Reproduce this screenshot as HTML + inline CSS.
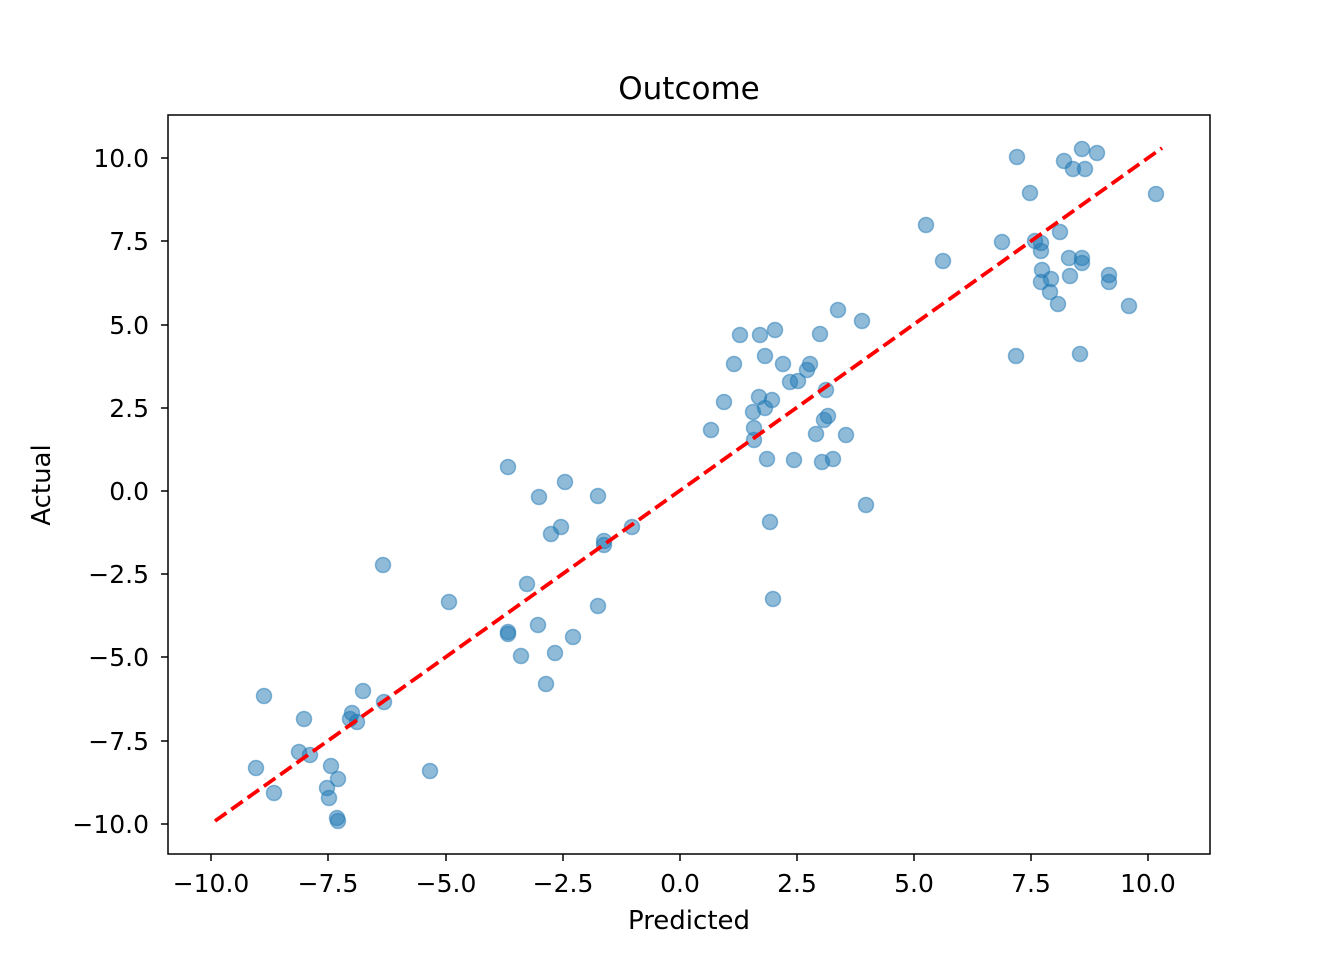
<!DOCTYPE html>
<html><head><meta charset="utf-8"><style>
html,body{margin:0;padding:0;background:#fff;}
svg{display:block;font-family:"DejaVu Sans","Liberation Sans",sans-serif;}
</style></head><body>
<svg width="1344" height="960" viewBox="0 0 1344 960" xmlns="http://www.w3.org/2000/svg">
<rect width="1344" height="960" fill="#fff"/>
<g fill="rgba(31,119,180,0.5)" stroke="rgba(31,119,180,0.5)" stroke-width="1.5">
<circle cx="256" cy="768" r="7.5"/><circle cx="264" cy="696" r="7.5"/><circle cx="274" cy="793" r="7.5"/><circle cx="299" cy="752" r="7.5"/><circle cx="304" cy="719" r="7.5"/><circle cx="310" cy="755" r="7.5"/><circle cx="327" cy="788" r="7.5"/><circle cx="329" cy="798" r="7.5"/><circle cx="331" cy="766" r="7.5"/><circle cx="338" cy="779" r="7.5"/><circle cx="337" cy="818" r="7.5"/><circle cx="338" cy="821" r="7.5"/><circle cx="350" cy="719" r="7.5"/><circle cx="352" cy="713" r="7.5"/><circle cx="357" cy="722" r="7.5"/><circle cx="363" cy="691" r="7.5"/><circle cx="383" cy="565" r="7.5"/><circle cx="384" cy="702" r="7.5"/><circle cx="430" cy="771" r="7.5"/><circle cx="449" cy="602" r="7.5"/><circle cx="508" cy="467" r="7.5"/><circle cx="508" cy="632" r="7.5"/><circle cx="508" cy="634" r="7.5"/><circle cx="521" cy="656" r="7.5"/><circle cx="527" cy="584" r="7.5"/><circle cx="538" cy="625" r="7.5"/><circle cx="539" cy="497" r="7.5"/><circle cx="551" cy="534" r="7.5"/><circle cx="555" cy="653" r="7.5"/><circle cx="561" cy="527" r="7.5"/><circle cx="565" cy="482" r="7.5"/><circle cx="573" cy="637" r="7.5"/><circle cx="546" cy="684" r="7.5"/><circle cx="598" cy="496" r="7.5"/><circle cx="598" cy="606" r="7.5"/><circle cx="604" cy="541" r="7.5"/><circle cx="604" cy="545" r="7.5"/><circle cx="632" cy="527" r="7.5"/>
<circle cx="711" cy="430" r="7.5"/><circle cx="724" cy="402" r="7.5"/><circle cx="734" cy="364" r="7.5"/><circle cx="740" cy="335" r="7.5"/><circle cx="753" cy="412" r="7.5"/><circle cx="754" cy="428" r="7.5"/><circle cx="754" cy="440" r="7.5"/><circle cx="759" cy="397" r="7.5"/><circle cx="760" cy="335" r="7.5"/><circle cx="765" cy="356" r="7.5"/><circle cx="765" cy="408" r="7.5"/><circle cx="767" cy="459" r="7.5"/><circle cx="770" cy="522" r="7.5"/><circle cx="772" cy="400" r="7.5"/><circle cx="773" cy="599" r="7.5"/><circle cx="775" cy="330" r="7.5"/><circle cx="783" cy="364" r="7.5"/><circle cx="790" cy="382" r="7.5"/><circle cx="794" cy="460" r="7.5"/><circle cx="798" cy="381" r="7.5"/><circle cx="807" cy="370" r="7.5"/><circle cx="810" cy="364" r="7.5"/><circle cx="816" cy="434" r="7.5"/><circle cx="820" cy="334" r="7.5"/><circle cx="822" cy="462" r="7.5"/><circle cx="824" cy="420" r="7.5"/><circle cx="826" cy="390" r="7.5"/><circle cx="828" cy="416" r="7.5"/><circle cx="833" cy="459" r="7.5"/><circle cx="838" cy="310" r="7.5"/><circle cx="846" cy="435" r="7.5"/><circle cx="862" cy="321" r="7.5"/><circle cx="866" cy="505" r="7.5"/>
<circle cx="926" cy="225" r="7.5"/><circle cx="943" cy="261" r="7.5"/><circle cx="1002" cy="242" r="7.5"/><circle cx="1016" cy="356" r="7.5"/><circle cx="1017" cy="157" r="7.5"/><circle cx="1030" cy="193" r="7.5"/><circle cx="1035" cy="241" r="7.5"/><circle cx="1041" cy="243" r="7.5"/><circle cx="1041" cy="251" r="7.5"/><circle cx="1042" cy="270" r="7.5"/><circle cx="1041" cy="282" r="7.5"/><circle cx="1050" cy="292" r="7.5"/><circle cx="1051" cy="279" r="7.5"/><circle cx="1058" cy="304" r="7.5"/><circle cx="1060" cy="232" r="7.5"/><circle cx="1064" cy="161" r="7.5"/><circle cx="1069" cy="258" r="7.5"/><circle cx="1070" cy="276" r="7.5"/><circle cx="1073" cy="169" r="7.5"/><circle cx="1080" cy="354" r="7.5"/><circle cx="1082" cy="149" r="7.5"/><circle cx="1082" cy="263" r="7.5"/><circle cx="1082" cy="258" r="7.5"/><circle cx="1085" cy="169" r="7.5"/><circle cx="1097" cy="153" r="7.5"/><circle cx="1109" cy="275" r="7.5"/><circle cx="1109" cy="282" r="7.5"/><circle cx="1129" cy="306" r="7.5"/><circle cx="1156" cy="194" r="7.5"/>
</g>
<line x1="215" y1="821" x2="1162" y2="148" stroke="#ff0000" stroke-width="3.8" stroke-dasharray="14,6"/>
<rect x="168" y="115" width="1042" height="739" fill="none" stroke="#000" stroke-width="1.5"/>
<g stroke="#000" stroke-width="1.5">
<line x1="211" y1="854" x2="211" y2="861"/><line x1="328" y1="854" x2="328" y2="861"/><line x1="446" y1="854" x2="446" y2="861"/><line x1="563" y1="854" x2="563" y2="861"/><line x1="680" y1="854" x2="680" y2="861"/><line x1="797" y1="854" x2="797" y2="861"/><line x1="914" y1="854" x2="914" y2="861"/><line x1="1031" y1="854" x2="1031" y2="861"/><line x1="1148" y1="854" x2="1148" y2="861"/>
<line x1="161" y1="158" x2="168" y2="158"/><line x1="161" y1="241" x2="168" y2="241"/><line x1="161" y1="325" x2="168" y2="325"/><line x1="161" y1="408" x2="168" y2="408"/><line x1="161" y1="491" x2="168" y2="491"/><line x1="161" y1="574" x2="168" y2="574"/><line x1="161" y1="657" x2="168" y2="657"/><line x1="161" y1="741" x2="168" y2="741"/><line x1="161" y1="824" x2="168" y2="824"/>
</g>
<g font-size="25" fill="#000" text-anchor="middle">
<text x="211" y="892">−10.0</text><text x="328" y="892">−7.5</text><text x="446" y="892">−5.0</text><text x="563" y="892">−2.5</text><text x="680" y="892">0.0</text><text x="797" y="892">2.5</text><text x="914" y="892">5.0</text><text x="1031" y="892">7.5</text><text x="1148" y="892">10.0</text>
</g>
<g font-size="25" fill="#000" text-anchor="end">
<text x="149" y="167">10.0</text><text x="149" y="250">7.5</text><text x="149" y="334">5.0</text><text x="149" y="417">2.5</text><text x="149" y="500">0.0</text><text x="149" y="583">−2.5</text><text x="149" y="666">−5.0</text><text x="149" y="750">−7.5</text><text x="149" y="833">−10.0</text>
</g>
<text x="689" y="929" font-size="26" text-anchor="middle">Predicted</text>
<text x="50" y="485" font-size="26" text-anchor="middle" transform="rotate(-90 50 485)">Actual</text>
<text x="689" y="99" font-size="31" text-anchor="middle">Outcome</text>
</svg>
</body></html>
